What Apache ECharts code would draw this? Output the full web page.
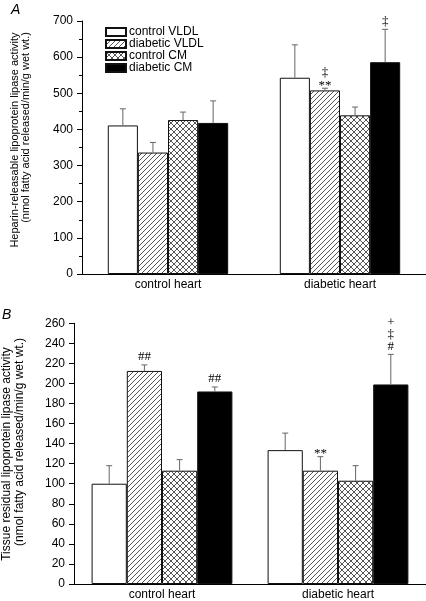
<!DOCTYPE html>
<html><head><meta charset="utf-8">
<script src="https://cdn.jsdelivr.net/npm/echarts@6/dist/echarts.min.js"></script>
<style>html,body{margin:0;padding:0;background:#fff}#c{width:426px;height:601px}</style>
</head><body><div id="c"></div>
<script>
// ---- data ----
const categories = ['control heart', 'diabetic heart'];
const seriesNames = ['control VLDL', 'diabetic VLDL', 'control CM', 'diabetic CM'];

// Panel A: heparin-releasable LPL activity (mean, SE)
const A_controlVLDL = [411, 543];
const A_diabeticVLDL = [336, 508];
const A_controlCM = [426, 439];
const A_diabeticCM = [418, 586];
const A_controlVLDL_se = [46, 91];
const A_diabeticVLDL_se = [28, 6];
const A_controlCM_se = [22, 23];
const A_diabeticCM_se = [61, 91];
const A_controlVLDL_marks = ['', ''];
const A_diabeticVLDL_marks = ['', '**|‡'];
const A_controlCM_marks = ['', ''];
const A_diabeticCM_marks = ['', '‡'];

// Panel B: tissue residual LPL activity (mean, SE)
const B_controlVLDL = [100, 133.5];
const B_diabeticVLDL = [212.5, 113];
const B_controlCM = [113, 103];
const B_diabeticCM = [192, 199];
const B_controlVLDL_se = [18, 17];
const B_diabeticVLDL_se = [6, 14];
const B_controlCM_se = [11, 15];
const B_diabeticCM_se = [4.5, 30];
const B_controlVLDL_marks = ['', ''];
const B_diabeticVLDL_marks = ['##', '**'];
const B_controlCM_marks = ['', ''];
const B_diabeticCM_marks = ['##', '#|‡|+'];

// ---- patterns ----
function pattern(kind) {
  const s = kind === 'diag' ? 5 : 6;
  const c = document.createElement('canvas');
  c.width = s; c.height = s;
  const g = c.getContext('2d');
  g.fillStyle = '#fff'; g.fillRect(0, 0, s, s);
  g.strokeStyle = '#2a2a2a'; g.lineWidth = 0.8;
  g.beginPath();
  g.moveTo(0, s); g.lineTo(s, 0);
  g.moveTo(-1, 1); g.lineTo(1, -1);
  g.moveTo(s - 1, s + 1); g.lineTo(s + 1, s - 1);
  if (kind === 'cross') {
    g.moveTo(0, 0); g.lineTo(s, s);
    g.moveTo(-1, s - 1); g.lineTo(1, s + 1);
    g.moveTo(s - 1, -1); g.lineTo(s + 1, 1);
  }
  g.stroke();
  return { image: c, repeat: 'repeat' };
}
const fills = ['#ffffff', pattern('diag'), pattern('cross'), '#000000'];

const FONT = 'Liberation Sans, Arial, Helvetica, sans-serif';
const SERIF = 'Liberation Serif, Times New Roman, serif';

function makePanel(idx, means, ses, marks, gap) {
  const series = [];
  means.forEach((m, s) => {
    series.push({
      name: seriesNames[s], type: 'bar', xAxisIndex: idx, yAxisIndex: idx,
      data: m, barGap: 0, barCategoryGap: gap,
      itemStyle: { color: fills[s], borderColor: '#111', borderWidth: 1 },
      emphasis: { disabled: true }, z: 2
    });
  });
  const rows = [];
  const markList = [];
  for (let c = 0; c < categories.length; c++) {
    for (let s = 0; s < 4; s++) {
      rows.push([c, s, means[s][c], means[s][c] + ses[s][c]]);
      markList.push(marks[s][c]);
    }
  }
  const gapFrac = parseFloat(gap) / 100;
  series.push({
    type: 'custom', xAxisIndex: idx, yAxisIndex: idx, z: 5, silent: true,
    data: rows, encode: { x: 0, y: 3 },
    renderItem: function (params, api) {
      const c = api.value(0), s = api.value(1), top = api.value(3);
      const band = api.size([1, 0])[0];
      const bw = band * (1 - gapFrac) / 4;
      const cx = api.coord([c, 0])[0] + (s - 1.5) * bw;
      const yBar = api.coord([c, api.value(2)])[1];
      const yTop = api.coord([c, top])[1];
      const children = [
        { type: 'line', shape: { x1: cx, y1: yBar, x2: cx, y2: yTop }, style: { stroke: '#666', lineWidth: 1 } },
        { type: 'line', shape: { x1: cx - 3, y1: yTop, x2: cx + 3, y2: yTop }, style: { stroke: '#666', lineWidth: 1 } }
      ];
      const txt = markList[params.dataIndex];
      if (txt) {
        let cursor = yTop - 2;
        txt.split('|').forEach(sym => {
          const h = sym === '**' ? 8 : 12;
          const vc = cursor - h / 2;
          cursor -= h;
          const off = sym === '**' ? 3 : (sym === '‡' ? 0 : 0);
          children.push({
            type: 'text', x: cx, y: vc + off,
            style: { text: sym, fill: '#000', font: '13px ' + SERIF, align: 'center', verticalAlign: 'middle' }
          });
        });
      }
      return { type: 'group', children };
    }
  });
  return series;
}

const seriesA = makePanel(0,
  [A_controlVLDL, A_diabeticVLDL, A_controlCM, A_diabeticCM],
  [A_controlVLDL_se, A_diabeticVLDL_se, A_controlCM_se, A_diabeticCM_se],
  [A_controlVLDL_marks, A_diabeticVLDL_marks, A_controlCM_marks, A_diabeticCM_marks], '30%');
const seriesB = makePanel(1,
  [B_controlVLDL, B_diabeticVLDL, B_controlCM, B_diabeticCM],
  [B_controlVLDL_se, B_diabeticVLDL_se, B_controlCM_se, B_diabeticCM_se],
  [B_controlVLDL_marks, B_diabeticVLDL_marks, B_controlCM_marks, B_diabeticCM_marks], '20%');

const axisLine = { show: true, lineStyle: { color: '#000', width: 1 } };
const labelStyle = { color: '#000', fontSize: 12, fontFamily: FONT };

const chart = echarts.init(document.getElementById('c'), null, { renderer: 'canvas' });
chart.setOption({
  animation: false,
  backgroundColor: '#fff',
  grid: [
    { left: 82, right: 0, top: 21, height: 253 },
    { left: 74, right: 0, top: 323.3, height: 261.4 }
  ],
  legend: {
    data: seriesNames, orient: 'vertical', left: 100, top: 21,
    itemWidth: 20, itemHeight: 8, itemGap: 0, icon: 'rect',
    selectedMode: false,
    textStyle: { color: '#000', fontSize: 12, fontFamily: FONT, lineHeight: 11.5, padding: [0, 0, 0, -2] }
  },
  xAxis: [
    { type: 'category', gridIndex: 0, data: categories, axisLine, axisTick: { show: false },
      axisLabel: Object.assign({ margin: 5 }, labelStyle) },
    { type: 'category', gridIndex: 1, data: categories, axisLine, axisTick: { show: false },
      axisLabel: Object.assign({ margin: 5 }, labelStyle) }
  ],
  yAxis: [
    { type: 'value', gridIndex: 0, min: 0, max: 700, interval: 100, axisLine,
      axisTick: { show: true, length: 5, lineStyle: { color: '#000' } },
      minorTick: { show: true, splitNumber: 2, length: 3, lineStyle: { color: '#000' } },
      splitLine: { show: false }, axisLabel: Object.assign({ margin: 9 }, labelStyle) },
    { type: 'value', gridIndex: 1, min: 0, max: 260, interval: 20, axisLine,
      axisTick: { show: true, length: 5, lineStyle: { color: '#000' } },
      splitLine: { show: false }, axisLabel: Object.assign({ margin: 9 }, labelStyle) }
  ],
  graphic: [
    { type: 'text', left: 11, top: 3, style: { text: 'A', font: 'italic 14px ' + FONT, fill: '#000' } },
    { type: 'text', left: 2, top: 308, style: { text: 'B', font: 'italic 14px ' + FONT, fill: '#000' } },
    { type: 'text', x: 14.5, y: 140, rotation: Math.PI / 2, style: { text: 'Heparin-releasable lipoprotein lipase activity', font: '11px ' + FONT, fill: '#000', align: 'center', verticalAlign: 'middle' } },
    { type: 'text', x: 25.5, y: 127.5, rotation: Math.PI / 2, style: { text: '(nmol fatty acid released/min/g wet wt.)', font: '11px ' + FONT, fill: '#000', align: 'center', verticalAlign: 'middle' } },
    { type: 'text', x: 6.5, y: 454, rotation: Math.PI / 2, style: { text: 'Tissue residual lipoprotein lipase activity', font: '12px ' + FONT, fill: '#000', align: 'center', verticalAlign: 'middle' } },
    { type: 'text', x: 20, y: 442, rotation: Math.PI / 2, style: { text: '(nmol fatty acid released/min/g wet wt.)', font: '12px ' + FONT, fill: '#000', align: 'center', verticalAlign: 'middle' } }
  ],
  series: seriesA.concat(seriesB)
});
</script></body></html>
